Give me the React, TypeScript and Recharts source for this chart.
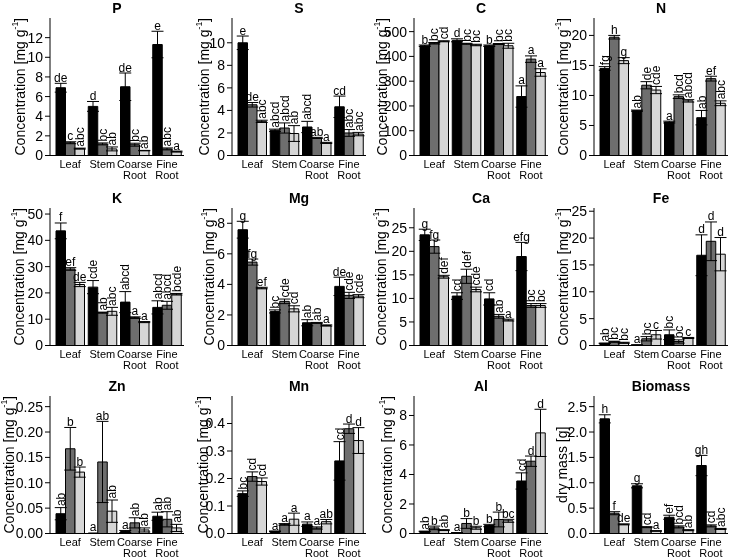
import React from "react";
import { BarChart, Bar, XAxis, YAxis, ErrorBar, LabelList } from "recharts";

const FONT = "'Liberation Sans', Arial, Helvetica, sans-serif";

const CATEGORIES = ["Leaf", "Stem", "Coarse Root", "Fine Root"];

// rows: Leaf, Stem, Coarse Root, Fine Root — columns: the three treatments (black, dark grey, light grey)
const P_MEAN = [[6.9, 1.3, 0.7], [5.0, 1.18, 0.67], [7.0, 1.1, 0.5], [11.3, 0.67, 0.4]];
const P_SE = [[0.45, 0.1, 0.05], [0.5, 0.1, 0.2], [1.4, 0.15, 0.02], [1.35, 0.1, 0.05]];
const P_LETTERS = [["de", "c", "abc"], ["d", "bc", "ab"], ["de", "bc", "ab"], ["e", "abc", "a"]];
const P_TICKS = [0, 2, 4, 6, 8, 10, 12];

const S_MEAN = [[10.0, 4.5, 3.03], [2.24, 2.44, 1.95], [2.53, 1.56, 1.12], [4.32, 2.0, 1.9]];
const S_SE = [[0.6, 0.2, 0.1], [0.1, 0.45, 0.7], [0.5, 0.05, 0.05], [0.95, 0.3, 0.15]];
const S_LETTERS = [["e", "de", "abc"], ["abcd", "abcd", "ab"], ["abcd", "ab", "a"], ["cd", "abc", "abc"]];
const S_TICKS = [0, 2, 4, 6, 8, 10];

const C_MEAN = [[443, 453, 461], [465, 451, 446], [443, 450, 443], [238, 389, 335]];
const C_SE = [[3, 3, 2], [6, 2, 3], [3, 2, 10], [43, 13, 15]];
const C_LETTERS = [["b", "bc", "cd"], ["d", "bc", "bc"], ["b", "bc", "bc"], ["a", "a", "a"]];
const C_TICKS = [0, 100, 200, 300, 400, 500];

const N_MEAN = [[14.5, 19.7, 15.8], [7.47, 11.7, 10.9], [5.57, 9.8, 9.1], [6.3, 12.8, 8.7]];
const N_SE = [[0.3, 0.3, 0.5], [0.1, 0.6, 0.6], [0.15, 0.3, 0.2], [1.2, 0.4, 0.4]];
const N_LETTERS = [["fg", "h", "g"], ["ab", "de", "cde"], ["a", "bcd", "abcd"], ["ab", "ef", "abc"]];
const N_TICKS = [0, 5, 10, 15, 20];

const K_MEAN = [[43.6, 29.1, 23.2], [22.2, 12.5, 13.0], [16.5, 10.6, 8.9], [14.5, 15.3, 19.5]];
const K_SE = [[3.0, 0.5, 0.8], [2.5, 0.2, 1.5], [4.0, 0.3, 0.2], [2.5, 1.5, 0.3]];
const K_LETTERS = [["f", "ef", "de"], ["cde", "ab", "abc"], ["abcd", "a", "a"], ["abcd", "abcd", "bcde"]];
const K_TICKS = [0, 10, 20, 30, 40, 50];

const MG_MEAN = [[7.58, 5.46, 3.76], [2.23, 2.89, 2.4], [1.49, 1.48, 1.31], [3.87, 3.28, 3.23]];
const MG_SE = [[0.55, 0.2, 0.05], [0.1, 0.15, 0.2], [0.2, 0.03, 0.04], [0.6, 0.2, 0.1]];
const MG_LETTERS = [["g", "fg", "ef"], ["bc", "cde", "cd"], ["ab", "ab", "a"], ["de", "cde", "cde"]];
const MG_TICKS = [0, 2, 4, 6, 8];

const CA_MEAN = [[23.5, 21.0, 14.6], [10.5, 14.7, 11.9], [9.9, 6.2, 5.4], [18.9, 8.5, 8.5]];
const CA_SE = [[1.2, 1.4, 0.3], [0.7, 1.5, 0.5], [1.3, 0.4, 0.2], [3.0, 0.4, 0.4]];
const CA_LETTERS = [["g", "fg", "def"], ["cd", "def", "cde"], ["cd", "ab", "a"], ["efg", "bc", "bc"]];
const CA_TICKS = [0, 5, 10, 15, 20, 25];

const FE_MEAN = [[0.4, 0.7, 0.5], [0.1, 1.25, 2.0], [2.0, 0.75, 1.4], [16.8, 19.4, 17.0]];
const FE_SE = [[0.05, 0.1, 0.1], [0.02, 0.4, 0.8], [0.9, 0.3, 0.1], [3.8, 3.6, 3.1]];
const FE_LETTERS = [["ab", "bc", "bc"], ["a", "bc", "c"], ["bc", "bc", "c"], ["d", "d", "d"]];
const FE_TICKS = [0, 5, 10, 15, 20, 25];

const ZN_MEAN = [[0.039, 0.167, 0.121], [0.001, 0.141, 0.044], [0.004, 0.021, 0.007], [0.034, 0.028, 0.011]];
const ZN_SE = [[0.012, 0.042, 0.01], [0, 0.08, 0.022], [0.002, 0.01, 0.004], [0.008, 0.015, 0.007]];
const ZN_LETTERS = [["ab", "b", "b"], ["a", "ab", "ab"], ["a", "ab", "ab"], ["ab", "ab", "ab"]];
const ZN_TICKS = [0, 0.05, 0.1, 0.15, 0.2, 0.25];

const MN_MEAN = [[0.145, 0.207, 0.189], [0.008, 0.033, 0.052], [0.034, 0.02, 0.043], [0.264, 0.381, 0.338]];
const MN_SE = [[0.01, 0.017, 0.013], [0.001, 0.003, 0.022], [0.008, 0.004, 0.008], [0.07, 0.017, 0.047]];
const MN_LETTERS = [["bc", "cd", "cd"], ["a", "a", "a"], ["a", "a", "ab"], ["cd", "d", "d"]];
const MN_TICKS = [0, 0.1, 0.2, 0.3, 0.4];

const AL_MEAN = [[0.14, 0.38, 0.23], [0.05, 0.68, 0.39], [0.54, 0.95, 0.86], [3.56, 4.9, 6.82]];
const AL_SE = [[0.02, 0.12, 0.03], [0.01, 0.33, 0.1], [0.08, 0.5, 0.1], [0.55, 0.35, 1.6]];
const AL_LETTERS = [["ab", "b", "ab"], ["a", "b", "b"], ["b", "b", "bc"], ["cd", "d", "d"]];
const AL_TICKS = [0, 2, 4, 6, 8];

const BM_MEAN = [[2.26, 0.4, 0.18], [0.94, 0.125, 0.05], [0.32, 0.13, 0.065], [1.34, 0.15, 0.09]];
const BM_SE = [[0.08, 0.03, 0.01], [0.04, 0.01, 0.005], [0.04, 0.02, 0.01], [0.2, 0.02, 0.01]];
const BM_LETTERS = [["h", "f", "de"], ["g", "cd", "a"], ["ef", "bcd", "ab"], ["gh", "cd", "abc"]];
const BM_TICKS = [0, 0.5, 1.0, 1.5, 2.0, 2.5];

// how the letters are set over each bar: h = horizontal, v = rotated
const ROT: Record<string, string[]> = {
  P: ["hhv", "hvv", "hvv", "hvh"],
  S: ["hhv", "vvv", "vhh", "hvv"],
  C: ["hvv", "hvv", "hvv", "hhh"],
  N: ["vhh", "vvv", "hvv", "vhv"],
  K: ["hhh", "vvv", "vhh", "vvv"],
  Mg: ["hhh", "vvv", "vvh", "hvv"],
  Ca: ["hhv", "vvv", "vvh", "hvv"],
  Fe: ["vvv", "hvh", "vvh", "hhh"],
  Zn: ["vhh", "hhv", "hvv", "vvv"],
  Mn: ["vvv", "hhh", "hhh", "vhh"],
  Al: ["vhv", "hhh", "hhh", "vhh"],
  Biomass: ["hhh", "hvh", "vvv", "hvv"],
};

const FILLS = ["#000000", "#6e6e6e", "#d6d6d6"];

const PLOT_W = 134;
const PLOT_H = 137.5;
const AXIS_W = 50;
const TOP_M = 18;
const SVG_W = 188;
const SVG_H = 190;
const COL_LEFT = [0, 182, 364, 544];
const ROW_TOP = [0, 190, 378];

const PANELS = [
  { title: "P", mean: P_MEAN, se: P_SE, letters: P_LETTERS, ticks: P_TICKS, max: 14, dec: 0, col: 0, row: 0, ylx: -30 },
  { title: "S", mean: S_MEAN, se: S_SE, letters: S_LETTERS, ticks: S_TICKS, max: 12.2, dec: 0, col: 1, row: 0, ylx: -28 },
  { title: "C", mean: C_MEAN, se: C_SE, letters: C_LETTERS, ticks: C_TICKS, max: 555, dec: 0, col: 2, row: 0, ylx: -32 },
  { title: "N", mean: N_MEAN, se: N_SE, letters: N_LETTERS, ticks: N_TICKS, max: 22.9, dec: 0, col: 3, row: 0, ylx: -31 },
  { title: "K", mean: K_MEAN, se: K_SE, letters: K_LETTERS, ticks: K_TICKS, max: 52.3, dec: 0, col: 0, row: 1, ylx: -31 },
  { title: "Mg", mean: MG_MEAN, se: MG_SE, letters: MG_LETTERS, ticks: MG_TICKS, max: 9.0, dec: 0, col: 1, row: 1, ylx: -23 },
  { title: "Ca", mean: CA_MEAN, se: CA_SE, letters: CA_LETTERS, ticks: CA_TICKS, max: 29.2, dec: 0, col: 2, row: 1, ylx: -33 },
  { title: "Fe", mean: FE_MEAN, se: FE_SE, letters: FE_LETTERS, ticks: FE_TICKS, max: 25.6, dec: 0, col: 3, row: 1, ylx: -31 },
  { title: "Zn", mean: ZN_MEAN, se: ZN_SE, letters: ZN_LETTERS, ticks: ZN_TICKS, max: 0.271, dec: 2, col: 0, row: 2, ylx: -41 },
  { title: "Mn", mean: MN_MEAN, se: MN_SE, letters: MN_LETTERS, ticks: MN_TICKS, max: 0.5, dec: 1, col: 1, row: 2, ylx: -29 },
  { title: "Al", mean: AL_MEAN, se: AL_SE, letters: AL_LETTERS, ticks: AL_TICKS, max: 9.32, dec: 0, col: 2, row: 2, ylx: -27 },
  { title: "Biomass", mean: BM_MEAN, se: BM_SE, letters: BM_LETTERS, ticks: BM_TICKS, max: 2.71, dec: 1, col: 3, row: 2, ylx: -32 },
];

const CatTick = (props: any) => {
  const { x, y, payload } = props;
  const lines = String(payload.value).split(" ");
  return (
    <text x={x} y={y} textAnchor="middle" fontSize={11} fontFamily={FONT} style={{ fill: "#000" }}>
      {lines.map((ln, i) => (
        <tspan key={i} x={x} dy={i === 0 ? 12 : 11}>{ln}</tspan>
      ))}
    </text>
  );
};

// panel title and y-axis title, drawn as the y-axis label
const Titles = ({ dx, mass, title }: { dx: number; mass: boolean; title: string }) => (
  <g>
    <text x={AXIS_W + PLOT_W / 2} y={TOP_M - 5} textAnchor="middle" fontSize={14} fontWeight="bold"
      fontFamily={FONT} style={{ fill: "#000" }}>
      {title}
    </text>
    <text
      transform={`translate(${AXIS_W + dx},${TOP_M + PLOT_H / 2}) rotate(-90)`}
      textAnchor="middle"
      dominantBaseline="central"
      fontSize={14}
      fontFamily={FONT}
      style={{ fill: "#000" }}
    >
      {mass ? "dry mass [g]" : (
        <>
          Concentration [mg g<tspan dy={-5} fontSize={8.5}>-1</tspan><tspan dy={5}>]</tspan>
        </>
      )}
    </text>
  </g>
);

function Panel({ p }: { p: any }) {
  const data = CATEGORIES.map((cat, i) => ({
    cat,
    m0: p.mean[i][0], m1: p.mean[i][1], m2: p.mean[i][2],
    e0: p.se[i][0], e1: p.se[i][1], e2: p.se[i][2],
    l0: p.letters[i][0], l1: p.letters[i][1], l2: p.letters[i][2],
  }));
  const k = PLOT_H / p.max;
  const rot = ROT[p.title];

  const letter = (s: number) => (props: any) => {
    const vb = props.viewBox || props;
    const i = props.index;
    if (i == null || vb.x == null) return null;
    const cx = vb.x + vb.width / 2;
    const bottom = vb.y + vb.height;
    const top = bottom - (p.mean[i][s] + p.se[i][s]) * k - 1.5;
    const txt = p.letters[i][s];
    const vertical = rot[i][s] === "v";
    return (
      <text
        transform={`translate(${cx},${top}) rotate(${vertical ? -90 : 0})`}
        textAnchor={vertical ? "start" : "middle"}
        dominantBaseline={vertical ? "central" : "auto"}
        fontSize={12}
        fontFamily={FONT}
        style={{ fill: "#000" }}
      >
        {txt}
      </text>
    );
  };

  const fmt = (v: number) => v.toFixed(p.dec);

  return (
    <div style={{ position: "absolute", left: COL_LEFT[p.col], top: ROW_TOP[p.row], willChange: "transform" }}>
      <BarChart
        width={SVG_W}
        height={SVG_H}
        data={data}
        margin={{ top: TOP_M, right: SVG_W - AXIS_W - PLOT_W, bottom: 0, left: 0 }}
        barGap={0}
        barSize={9.5}
      >
        <XAxis
          dataKey="cat"
          axisLine={{ stroke: "#000" }}
          tickLine={false}
          tickSize={0}
          tickMargin={0}
          interval={0}
          height={SVG_H - TOP_M - PLOT_H}
          padding={{ left: 4, right: 1 }}
          tick={CatTick}
        />
        <XAxis
          xAxisId="top"
          orientation="top"
          dataKey="cat"
          height={0}
          tick={false}
          tickLine={false}
          axisLine={{ stroke: "#000" }}
        />
        <YAxis
          width={AXIS_W}
          domain={[0, p.max]}
          allowDataOverflow
          ticks={p.ticks}
          interval={0}
          tickFormatter={fmt}
          tickSize={5}
          tickMargin={2}
          tickLine={{ stroke: "#000" }}
          axisLine={{ stroke: "#000" }}
          tick={{ fontSize: 14, fill: "#000", fontFamily: FONT }}
          label={<Titles dx={p.ylx} mass={p.title === "Biomass"} title={p.title} />}
        />
        <YAxis
          yAxisId="right"
          orientation="right"
          width={0}
          domain={[0, p.max]}
          allowDataOverflow
          tick={false}
          tickLine={false}
          axisLine={{ stroke: "#000" }}
        />
        {[0, 1, 2].map((s) => (
          <Bar key={s} dataKey={`m${s}`} fill={FILLS[s]} stroke="#000" strokeWidth={1} isAnimationActive={false}>
            <ErrorBar dataKey={`e${s}`} width={6} stroke="#000" strokeWidth={1} direction="y" />
            <LabelList dataKey={`l${s}`} content={letter(s)} />
          </Bar>
        ))}
      </BarChart>
    </div>
  );
}

export default function App() {
  return (
    <div style={{ position: "absolute", left: 0, top: 0, width: 730, height: 557, overflow: "hidden", background: "#fff" }}>
      {PANELS.map((p) => (
        <Panel key={p.title} p={p} />
      ))}
    </div>
  );
}
